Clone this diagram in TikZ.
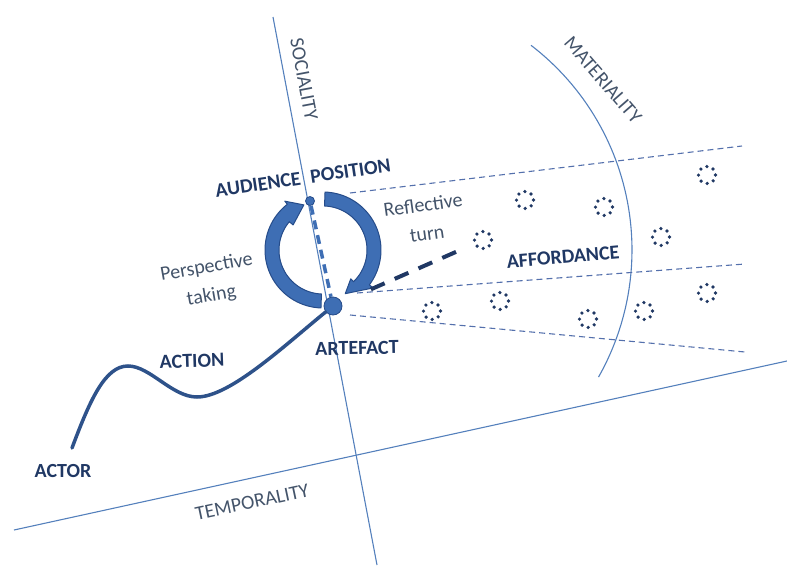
\documentclass[tikz,border=0pt]{standalone}
\usepackage{fontspec}
\setmainfont{Carlito}
\definecolor{axisblue}{RGB}{84,128,188}
\definecolor{navy}{RGB}{32,56,100}
\definecolor{slate}{RGB}{68,84,106}
\definecolor{arrowblue}{RGB}{62,110,180}
\definecolor{arrowdark}{RGB}{38,76,138}
\definecolor{dashblue}{RGB}{84,112,172}
\definecolor{curveblue}{RGB}{46,82,138}
\begin{document}
\begin{tikzpicture}[x=1pt,y=-1pt,
  axis/.style={draw=axisblue, line width=1.1pt},
  boldlbl/.style={font=\bfseries\fontsize{20}{24}\selectfont, text=navy, inner sep=0pt},
  lbl/.style={font=\fontsize{20}{29}\selectfont, text=slate, inner sep=0pt, align=center},
  affring/.style={circle, minimum size=17pt, inner sep=0pt, draw=navy, line width=3.6pt, dash pattern=on 0pt off 6.67pt, line cap=round},
  thindash/.style={draw=dashblue, line width=1.1pt, dash pattern=on 6pt off 4pt},
  dotnode/.style={circle, inner sep=0pt, fill=arrowblue, draw=arrowdark, line width=0.8pt},
  blockarrow/.style={fill=arrowblue, draw=arrowdark, line width=1pt, line join=round},
  middash/.style={draw=arrowblue, line width=3.5pt, dash pattern=on 9pt off 6pt},
  reflectline/.style={draw=navy, line width=4pt, dash pattern=on 15pt off 11pt},
  actionline/.style={draw=curveblue, line width=3.5pt, line cap=round}
]
\useasboundingbox (0,0) rectangle (787,565);

% axes
\coordinate (s1) at (273,17); \coordinate (s2) at (377,565);
\draw[axis] (s1) -- (s2);
\coordinate (t1) at (14,530); \coordinate (t2) at (787,361);
\draw[axis] (t1) -- (t2);
% materiality arc
\draw[axis] plot[domain=-52.5:29.5, samples=60] ({374+258*cos(\x)},{250+258*sin(\x)});

% thin dashed cone lines
\coordinate (u1) at (350,193); \coordinate (u2) at (742,146);
\coordinate (m1) at (357,293); \coordinate (m2) at (745,264);
\coordinate (l1) at (350,315); \coordinate (l2) at (745,352);
\draw[thindash] (u1) -- (u2);
\draw[thindash] (m1) -- (m2);
\draw[thindash] (l1) -- (l2);

% circular block arrows
\filldraw[blockarrow] plot[domain=-88:37, samples=40] ({323+58*cos(\x)},{250+58*sin(\x)})
  -- ({323+63*cos(37)},{250+63*sin(37)})
  -- ({323+49*cos(63)},{250+49*sin(63)})
  -- ({323+40*cos(46)},{250+40*sin(46)})
  -- plot[domain=46:-88, samples=40] ({323+44*cos(\x)},{250+44*sin(\x)}) -- cycle;
\filldraw[blockarrow] plot[domain=92:232, samples=40] ({323+58*cos(\x)},{250+58*sin(\x)})
  -- ({323+62*cos(232)},{250+62*sin(232)})
  -- ({323+49*cos(247)},{250+49*sin(247)})
  -- ({323+39*cos(220)},{250+39*sin(220)})
  -- plot[domain=220:92, samples=40] ({323+44*cos(\x)},{250+44*sin(\x)}) -- cycle;

% dots
\node[dotnode, minimum size=9pt] (pos) at (310,201) {};
\node[dotnode, minimum size=18pt] (art) at (333,306) {};
\draw[middash] (pos) -- (art);

% affordance rings
\foreach \n/\p in {1/{(483,240)},2/{(525,200)},3/{(604,207)},4/{(707,175)},5/{(661,237)},
                   6/{(432,311)},7/{(500,301)},8/{(588,319)},9/{(644,311)},10/{(707,293)}}
  \node[affring] (f\n) at \p {};

% reflective turn
\draw[reflectline, shorten <=32pt, shorten >=9pt] (art) -- (f1);

% action curve
\coordinate (a0) at (72,448);
\draw[actionline] (a0) .. controls (90,400) and (105,366) .. (128,366)
  .. controls (150,366) and (172,397) .. (197,397)
  .. controls (230,397) and (285,345) .. (art);

% labels
\node[boldlbl, rotate=8.5] (aud) at (303,178) {AUDIENCE\hspace{10pt}POSITION};
\node[lbl, rotate=8] (refl) at (425,219) {Reflective\\turn};
\node[lbl, rotate=10] (persp) at (209,282) {Perspective\\taking};
\node[boldlbl, rotate=5] (affl) at (563,257) {AFFORDANCE};
\node[boldlbl, rotate=2] (actl) at (192,361) {ACTION};
\node[boldlbl, rotate=1] (artl) at (357,348) {ARTEFACT};
\node[boldlbl] (actor) at (63,471) {ACTOR};
\node[lbl, rotate=12] (temp) at (252,502) {TEMPORALITY};
\node[lbl, rotate=-79.3] (soc) at (304,79) {SOCIALITY};
\node[lbl, rotate=-49] (mat) at (603,80) {MATERIALITY};
\end{tikzpicture}
\end{document}
